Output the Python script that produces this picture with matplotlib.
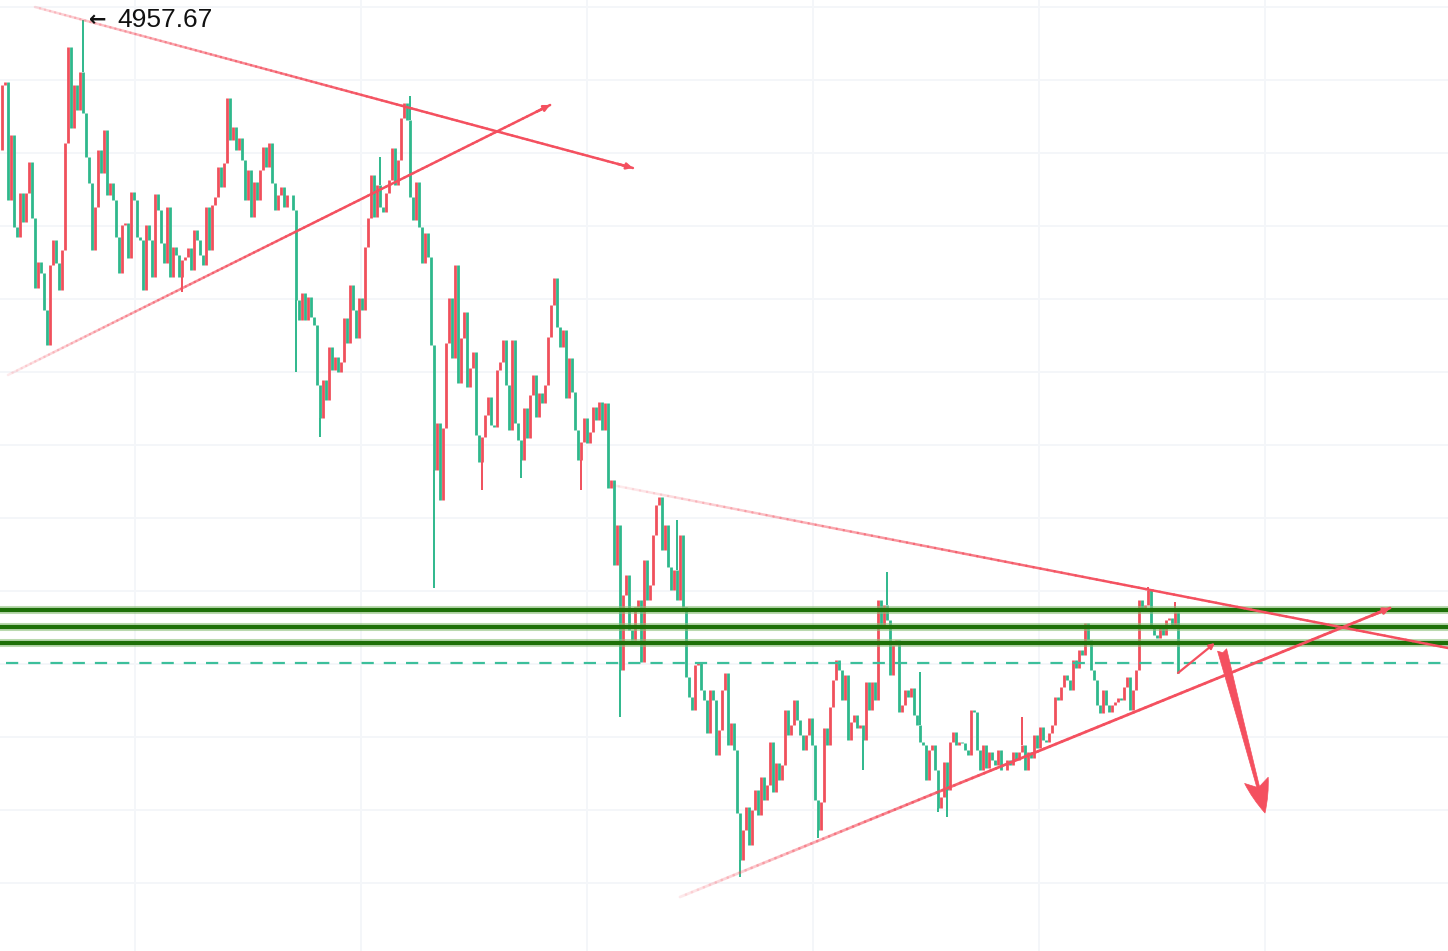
import numpy as np
import matplotlib
matplotlib.use("Agg")
import matplotlib.pyplot as plt
from matplotlib.collections import LineCollection
from matplotlib.colors import to_rgba

# closing prices, one per bar (open = previous close)
first_open = 4828
closes = [
    4893, 4896, 4778, 4843, 4751, 4741, 4785, 4756, 4785, 4816,
    4760, 4690, 4716, 4705, 4668, 4633, 4713, 4738, 4715, 4688,
    4728, 4835, 4931, 4850, 4893, 4868, 4906, 4865, 4821, 4795,
    4728, 4771, 4828, 4805, 4848, 4783, 4795, 4778, 4741, 4705,
    4753, 4755, 4720, 4786, 4778, 4741, 4738, 4688, 4753, 4738,
    4701, 4784, 4768, 4735, 4715, 4771, 4701, 4731, 4723, 4701,
    4718, 4721, 4730, 4708, 4748, 4738, 4723, 4713, 4771, 4728,
    4773, 4781, 4811, 4791, 4815, 4880, 4838, 4851, 4828, 4840,
    4818, 4778, 4808, 4761, 4796, 4778, 4808, 4831, 4811, 4835,
    4795, 4768, 4783, 4791, 4771, 4783, 4783, 4768, 4678, 4658,
    4685, 4658, 4681, 4661, 4653, 4593, 4560, 4598, 4578, 4631,
    4608, 4621, 4606, 4616, 4660, 4635, 4693, 4668, 4640, 4680,
    4668, 4731, 4760, 4803, 4761, 4793, 4771, 4766, 4785, 4798,
    4830, 4793, 4818, 4860, 4875, 4858, 4781, 4758, 4796, 4751,
    4715, 4745, 4721, 4633, 4508, 4555, 4478, 4550, 4635, 4680,
    4620, 4713, 4595, 4640, 4666, 4591, 4610, 4626, 4543, 4516,
    4541, 4563, 4581, 4553, 4551, 4608, 4616, 4638, 4593, 4548,
    4638, 4555, 4538, 4518, 4570, 4540, 4583, 4603, 4561, 4585,
    4575, 4593, 4641, 4673, 4700, 4651, 4631, 4648, 4580, 4620,
    4586, 4548, 4518, 4536, 4560, 4535, 4546, 4571, 4558, 4576,
    4548, 4575, 4490, 4498, 4413, 4453, 4308, 4383, 4403, 4348,
    4338, 4371, 4378, 4316, 4418, 4378, 4393, 4443, 4473, 4481,
    4428, 4453, 4411, 4388, 4408, 4378, 4443, 4371, 4301, 4281,
    4268, 4313, 4315, 4288, 4278, 4245, 4288, 4278, 4223, 4248,
    4288, 4305, 4233, 4255, 4228, 4165, 4118, 4148, 4171, 4133,
    4168, 4188, 4163, 4201, 4178, 4193, 4236, 4186, 4215, 4198,
    4213, 4268, 4243, 4253, 4278, 4258, 4243, 4228, 4243, 4260,
    4233, 4178, 4148, 4176, 4250, 4233, 4271, 4298, 4318, 4308,
    4278, 4303, 4238, 4256, 4263, 4250, 4253, 4238, 4296, 4268,
    4296, 4278, 4378, 4353, 4373, 4358, 4303, 4333, 4338, 4266,
    4273, 4288, 4281, 4290, 4263, 4253, 4236, 4233, 4198, 4228,
    4233, 4208, 4170, 4181, 4216, 4188, 4236, 4246, 4233, 4236,
    4235, 4228, 4223, 4268, 4266, 4228, 4208, 4233, 4210, 4226,
    4218, 4213, 4228, 4208, 4208, 4218, 4213, 4226, 4218, 4226,
    4233, 4208, 4226, 4220, 4243, 4230, 4251, 4238, 4236, 4245,
    4253, 4281, 4278, 4291, 4303, 4298, 4288, 4318, 4310, 4328,
    4323, 4355, 4338, 4308, 4298, 4273, 4265, 4288, 4273, 4266,
    4273, 4276, 4280, 4278, 4291, 4301, 4268, 4288, 4308, 4378,
    4368, 4373, 4388, 4353, 4343, 4340, 4353, 4343, 4358, 4360,
    4351, 4366, 4305,
]

# long wicks (bar index, extreme price)
wick_idx = [27, 60, 98, 106, 126, 136, 144, 160, 173, 193, 206, 225,
            246, 272, 287, 295, 306, 312, 315, 340, 382, 391]
wick_price = [4957.67, 4686, 4606, 4541, 4821, 4882, 4390, 4488, 4500, 4488, 4261, 4458,
              4101, 4140, 4208, 4406, 4306, 4166, 4161, 4261, 4391, 4376]

support_levels = [4368, 4351, 4335]
dashed_level = 4315

grid_prices = [4971, 4898, 4825, 4752, 4679, 4606, 4533, 4460, 4387, 4314, 4241, 4168, 4095]
grid_bars = [44.3, 119.7, 195, 270.3, 345.7, 421]

# drawn trend lines: (bar, price) start -> end
line_top_a = [(11, 4971), (210.3, 4810)]
line_top_b = [(2, 4603), (182.7, 4873)]
line_low_a = [(203.3, 4493), (482, 4330)]
line_low_b = [(226, 4081), (462.7, 4370)]
small_arrow = [(392, 4305), (404.3, 4335)]
big_arrow = [(406.7, 4328), (421, 4165)]

UP = '#f0505c'
DOWN = '#2fb88c'
LINE = '#f4505f'

n = len(closes)
x = np.arange(n)
c = np.array(closes, dtype=float)
o = np.r_[first_open, c[:-1]]
cols = np.where(c >= o, UP, DOWN)

fig = plt.figure(figsize=(14.48, 9.51), dpi=100)
ax = fig.add_axes([0, 0, 1, 1])
ax.set_xlim(-2 / 3, 1446 / 3)
ax.set_ylim(4027, 4978)

ax.set_xticks(grid_bars)
ax.set_yticks(grid_prices)
ax.grid(True, color='#f4f6f9', lw=1.4)
ax.set_axisbelow(True)
ax.tick_params(length=0, labelbottom=False, labelleft=False)
for s in ax.spines.values():
    s.set_visible(False)

# candles
ax.vlines(x, np.minimum(o, c), np.maximum(o, c), colors=cols, lw=2.0, zorder=3)
for i, p in zip(wick_idx, wick_price):
    lo, hi = min(o[i], c[i]), max(o[i], c[i])
    if p > hi:
        ax.vlines(i, hi, p, colors=cols[i], lw=1.4, zorder=3)
    else:
        ax.vlines(i, p, lo, colors=cols[i], lw=1.4, zorder=3)

# horizontal levels
for lvl in support_levels:
    ax.axhline(lvl, color='#8cc07a', lw=5.8, alpha=0.6, zorder=4)
    ax.axhline(lvl, color='#1e7008', lw=3.0, zorder=4)
ax.axhline(dashed_level, xmin=0.004, color='#3cbf9b', lw=1.6, ls=(0, (5.5, 4.5)), zorder=4)


def fade_line(p0, p1, lw, a0, ramp, arrow=False):
    t = np.linspace(0, 1, 120)
    xs = p0[0] + (p1[0] - p0[0]) * t
    ys = p0[1] + (p1[1] - p0[1]) * t
    pts = np.column_stack([xs, ys])
    segs = np.stack([pts[:-1], pts[1:]], axis=1)
    a = a0 + (1 - a0) * np.clip(t[:-1] / ramp, 0, 1)
    base = np.array(to_rgba(LINE))
    rgba = np.tile(base, (len(a), 1))
    rgba[:, 3] = a
    ax.add_collection(LineCollection(segs, colors=rgba, linewidths=lw, zorder=5, capstyle='round'))
    if arrow:
        ax.annotate('', xy=p1, xytext=(xs[-4], ys[-4]),
                    arrowprops=dict(arrowstyle='-|>', color=LINE, lw=lw,
                                    mutation_scale=9, shrinkA=0, shrinkB=0), zorder=6)


fade_line(*line_top_a, lw=1.8, a0=0.2, ramp=0.6, arrow=True)
fade_line(*line_top_b, lw=1.8, a0=0.12, ramp=0.55, arrow=True)
fade_line(*line_low_a, lw=1.8, a0=0.1, ramp=0.6)
fade_line(*line_low_b, lw=2.0, a0=0.12, ramp=0.45, arrow=True)

ax.annotate('', xy=small_arrow[1], xytext=small_arrow[0],
            arrowprops=dict(arrowstyle='-|>', color=LINE, lw=1.6,
                            mutation_scale=8, shrinkA=0, shrinkB=0), zorder=6)
ax.annotate('', xy=big_arrow[1], xytext=big_arrow[0],
            arrowprops=dict(arrowstyle='fancy,head_length=0.9,head_width=0.65,tail_width=0.25',
                            fc=LINE, ec=LINE, lw=0.5, mutation_scale=27,
                            shrinkA=0, shrinkB=0), zorder=6)

# peak label
peak = max(wick_price)
peak_at = (wick_idx[wick_price.index(peak)], peak)
ax.annotate("\u2190", xy=peak_at, xytext=(4, 0), textcoords='offset points',
            va='center', ha='left', fontsize=15, family='DejaVu Sans',
            fontweight='bold', color='#111111', zorder=7)
ax.annotate(f"{peak:.2f}", xy=peak_at, xytext=(24.5, 0.5), textcoords='offset points',
            va='center', ha='left', fontsize=19, family='Liberation Sans', color='#111111', zorder=7)

fig.savefig('out.png', dpi=100, facecolor='white')
